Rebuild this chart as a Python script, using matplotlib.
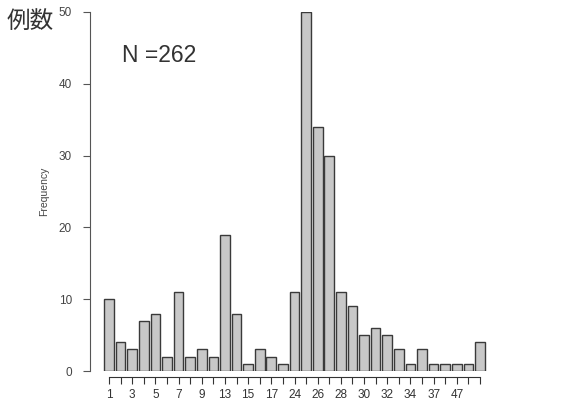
import matplotlib
matplotlib.use('Agg')
import matplotlib.pyplot as plt
import numpy as np

plt.rcParams['font.family'] = ['Liberation Sans', 'Noto Sans CJK JP', 'DejaVu Sans']

# categories (bar names) and counts, N = 262
names = ['1', '2', '3', '4', '5', '6', '7', '8', '9', '10',
         '13', '14', '15', '16', '17', '18',
         '24', '25', '26', '27', '28', '29', '30', '31', '32', '33', '34', '35',
         '37', '40', '47', '48', '50']
counts = [10, 4, 3, 7, 8, 2, 11, 2, 3, 2,
          19, 8, 1, 3, 2, 1,
          11, 50, 34, 30, 11, 9, 5, 6, 5, 3, 1, 3,
          1, 1, 1, 1, 4]
yticks = [0, 10, 20, 30, 40, 50]

W, H = 566, 403
fig = plt.figure(figsize=(W / 100, H / 100), dpi=100)

# axes box in pixels: left spine at x=90, y from 12 (top) to 371 (zero)
left, right, top, bottom = 90, 495, 12, 371
ax = fig.add_axes([left / W, (H - bottom) / H, (right - left) / W, (bottom - top) / H])

pos = np.arange(len(counts))
step = 11.594  # px per bar slot
ax.bar(pos, counts, width=1 / 1.2, color='#c8c8c8', edgecolor='#3a3a3a', linewidth=1.0)

ax.set_xlim((left - 109) / step, (right - 109) / step)
ax.set_ylim(0, 50)

for s in ['top', 'right']:
    ax.spines[s].set_visible(False)
ax.spines['left'].set_color('#555555')
ax.spines['bottom'].set_color('#333333')
ax.spines['bottom'].set_position(('outward', 4))
ax.spines['bottom'].set_bounds(0, len(counts) - 1)

ax.set_yticks(yticks)
ax.set_yticklabels([str(v) for v in yticks])
ax.tick_params(axis='y', length=5, width=0.8, color='#555555', labelsize=8.5,
               labelcolor='#444444', pad=8)
# R drops every other name (and the last one) when they would overlap
ax.set_xticks(pos)
ax.set_xticklabels([n if i % 2 == 0 and i < len(names) - 1 else ''
                    for i, n in enumerate(names)])
ax.tick_params(axis='x', length=5, width=0.8, color='#333333', labelsize=8.5,
               labelcolor='#333333', pad=4)

ax.set_ylabel('Frequency', fontsize=7.5, color='#444444', labelpad=7)

fig.text(7 / W, 1 - 22 / H, '例数', fontsize=17, color='#333333', va='center', ha='left')
fig.text(122 / W, 1 - 56 / H, 'N =262', fontsize=16.5, color='#333333', va='center', ha='left')

fig.savefig('out.png', dpi=100)
